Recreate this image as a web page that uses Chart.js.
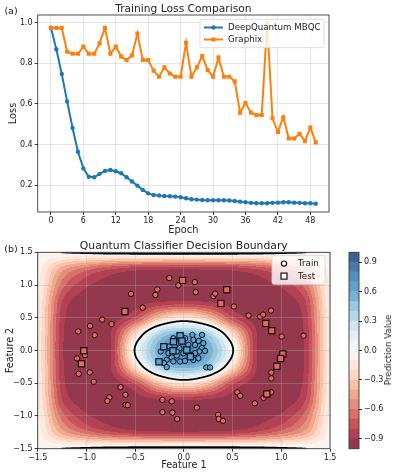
<!DOCTYPE html>
<html>
<head>
<meta charset="utf-8">
<script src="https://cdn.jsdelivr.net/npm/chart.js@4.4.0/dist/chart.umd.min.js"></script>
<style>
body { margin: 0; background: #fff; width: 396px; height: 476px; position: relative; overflow: hidden; font-family: 'DejaVu Sans', sans-serif; color: #222; }
canvas { position: absolute; }
.lbl { position: absolute; white-space: nowrap; transform: translate(-50%, -50%); }
</style>
</head>
<body>
<canvas id="lossChart" width="396" height="240" style="left:0;top:0"></canvas>
<canvas id="boundaryChart" width="396" height="240" style="left:0;top:236px"></canvas>
<canvas id="colorbarChart" width="56" height="240" style="left:340px;top:236px"></canvas>
<div class="lbl" style="left:11px;top:10px;font-size:9.5px">(a)</div>
<div class="lbl" style="left:183.4px;top:8px;font-size:10.7px">Training Loss Comparison</div>
<div class="lbl" style="left:11px;top:248px;font-size:9.5px">(b)</div>
<div class="lbl" style="left:183.8px;top:245px;font-size:10.8px">Quantum Classifier Decision Boundary</div>
<div class="lbl" style="left:388px;top:350px;font-size:8.8px;transform:translate(-50%,-50%) rotate(-90deg)">Prediction Value</div>
<script>
// (a) training loss
const epochs = [0,1,2,3,4,5,6,7,8,9,10,11,12,13,14,15,16,17,18,19,20,21,22,23,24,25,26,27,28,29,30,31,32,33,34,35,36,37,38,39,40,41,42,43,44,45,46,47,48,49];
const mbqcLoss = [0.975,0.869,0.747,0.612,0.481,0.364,0.282,0.241,0.238,0.255,
    0.269,0.274,0.268,0.258,0.238,0.217,0.197,0.176,0.159,0.151,
    0.148,0.146,0.145,0.143,0.140,0.135,0.130,0.128,0.126,0.125,
    0.125,0.125,0.125,0.124,0.121,0.118,0.115,0.112,0.110,0.110,
    0.110,0.112,0.113,0.115,0.115,0.113,0.112,0.110,0.110,0.108];
const graphixLoss = [0.974,0.974,0.974,0.857,0.847,0.847,0.882,0.847,0.847,0.898,
    0.974,0.847,0.882,0.833,0.816,0.839,0.947,0.816,0.816,0.764,
    0.734,0.780,0.750,0.734,0.734,0.901,0.734,0.780,0.836,0.767,
    0.734,0.828,0.734,0.734,0.711,0.557,0.604,0.557,0.545,0.545,
    0.997,0.529,0.461,0.534,0.429,0.429,0.452,0.417,0.483,0.410];
const epochTicks = [0,6,12,18,24,30,36,42,48];
const lossTicks = [0.2,0.4,0.6,0.8,1.0];

// (b) decision boundary: prediction values read on a 0.25 grid
const gridXs = [-1.5,-1.25,-1.0,-0.75,-0.5,-0.25,0,0.25,0.5,0.75,1.0,1.25,1.5];
const gridYs = [1.5,1.25,1.0,0.75,0.5,0.25,0,-0.25,-0.5,-0.75,-1.0,-1.25,-1.5];
const predictionGrid = [
    [-0.04,0.00,0.02,0.04,0.05,0.06,0.06,0.06,0.05,0.04,0.02,0.00,-0.04],
    [-0.06,-0.45,-0.65,-0.78,-0.85,-0.87,-0.88,-0.87,-0.85,-0.78,-0.65,-0.45,-0.06],
    [-0.08,-0.65,-0.88,-0.95,-0.97,-0.98,-0.98,-0.98,-0.97,-0.95,-0.88,-0.65,-0.08],
    [-0.10,-0.80,-0.96,-0.98,-0.95,-0.91,-0.89,-0.91,-0.95,-0.98,-0.96,-0.80,-0.10],
    [-0.11,-0.85,-0.98,-0.96,-0.78,-0.35,-0.15,-0.35,-0.78,-0.96,-0.98,-0.85,-0.11],
    [-0.12,-0.87,-0.98,-0.90,-0.22,0.38,0.55,0.38,-0.22,-0.90,-0.98,-0.87,-0.12],
    [-0.12,-0.88,-0.98,-0.90,0.02,0.58,0.85,0.58,0.02,-0.90,-0.98,-0.88,-0.12],
    [-0.12,-0.87,-0.98,-0.90,-0.22,0.38,0.55,0.38,-0.22,-0.90,-0.98,-0.87,-0.12],
    [-0.11,-0.85,-0.98,-0.96,-0.78,-0.35,-0.15,-0.35,-0.78,-0.96,-0.98,-0.85,-0.11],
    [-0.10,-0.80,-0.96,-0.98,-0.95,-0.91,-0.89,-0.91,-0.95,-0.98,-0.96,-0.80,-0.10],
    [-0.08,-0.65,-0.88,-0.95,-0.97,-0.98,-0.98,-0.98,-0.97,-0.95,-0.88,-0.65,-0.08],
    [-0.06,-0.45,-0.65,-0.78,-0.85,-0.87,-0.88,-0.87,-0.85,-0.78,-0.65,-0.45,-0.06],
    [-0.04,0.00,0.02,0.04,0.05,0.06,0.06,0.06,0.05,0.04,0.02,0.00,-0.04]
];
const levels = [-1.0,-0.9,-0.8,-0.7,-0.6,-0.5,-0.4,-0.3,-0.2,-0.1,0.0,0.1,0.2,0.3,0.4,0.5,0.6,0.7,0.8,0.9,1.0];
const featureTicks = [-1.5,-1.0,-0.5,0.0,0.5,1.0,1.5];
const colorbarTicks = [-0.9,-0.6,-0.3,0.0,0.3,0.6,0.9];

const trainRingX = [-0.149,-0.056,0.112,0.122,-0.272,-0.292,-0.542,0.303,0.322,-0.423,0.513,0.664,-0.838,-0.742,-0.963,-1.084,-0.915,0.784,0.815,0.895,1.004,1.229,
    -1.096,-1.014,-1.079,-0.966,-0.925,0.898,0.898,0.895,-0.650,-0.600,-0.765,-0.785,-0.598,-0.576,-0.220,-0.124,0.549,0.578,0.728,0.818,0.134,-0.220,-0.118,-0.068,0.352,0.358,0.402];
const trainRingY = [1.106,0.995,1.045,0.892,0.931,0.848,0.865,0.831,0.868,0.655,0.672,0.533,0.472,0.403,0.376,0.291,0.234,0.517,0.548,0.611,0.213,0.225,
    -0.120,-0.071,-0.356,-0.333,-0.478,-0.335,-0.426,-0.638,-0.561,-0.676,-0.716,-0.771,-0.830,-0.835,-0.754,-0.777,-0.638,-0.691,-0.807,-0.724,-0.873,-0.942,-0.949,-1.046,-0.983,-1.046,-1.074];
const trainCoreX = [0.088,0.187,0.098,0.153,0.200,0.115,0.184,0.218,0.159,0.115,0.064,-0.005,-0.046,-0.073,-0.124,-0.159,-0.176,-0.203,-0.176,-0.108,
    -0.039,0.012,0.098,0.149,0.230,0.269,0.046,0.012,-0.073,-0.237,-0.108,-0.056,0.030,-0.022,-0.149];
const trainCoreY = [0.238,0.238,0.161,0.146,0.111,0.085,0.035,-0.006,-0.015,-0.041,-0.067,-0.041,0.035,-0.076,-0.107,-0.041,-0.143,-0.193,-0.254,-0.167,
    -0.167,-0.158,-0.143,-0.117,-0.259,-0.259,0.085,0.187,-0.015,-0.015,0.187,0.111,-0.015,0.161,0.061];
const testRingX = [-0.012,0.440,0.380,-0.605,0.840,0.902,-1.026,-1.050,1.016,0.993,0.955,0.852];
const testRingY = [1.071,0.929,0.720,0.596,0.414,0.302,-0.005,-0.203,-0.053,-0.122,-0.241,-0.665];
const testCoreX = [-0.039,-0.106,-0.020,0.030,-0.112,-0.206,0.067,-0.255];
const testCoreY = [0.225,0.135,0.144,0.007,-0.005,0.056,-0.094,-0.172];

Chart.defaults.font.family = "'DejaVu Sans', sans-serif";
Chart.defaults.color = '#222';

const tickFont = { size: 8 };
const gridColor = 'rgba(176,176,176,0.32)';

function fmtTick(v) {
    if (Math.abs(v) < 1e-9) return '0.0';
    return (v < 0 ? '\u2212' : '') + Math.abs(v).toFixed(1);
}

// matplotlib RdBu
const rdbu = ['#67001f','#b2182b','#d6604d','#f4a582','#fddbc7','#f7f7f7','#d1e5f0','#92c5de','#4393c3','#2166ac','#053061']
    .map(h => [parseInt(h.slice(1,3),16), parseInt(h.slice(3,5),16), parseInt(h.slice(5,7),16)]);
function cmap(t) {
    t = Math.max(0, Math.min(1, t)) * 10;
    const i = Math.min(9, Math.floor(t)), f = t - i;
    return rdbu[i].map((c, k) => c + (rdbu[i + 1][k] - c) * f);
}
const fillAlpha = 0.8;
const bandColors = levels.slice(0, -1).map((lo, k) => {
    const mid = (lo + levels[k + 1]) / 2;
    return cmap((mid + 1) / 2).map(c => Math.round(c * fillAlpha + 255 * (1 - fillAlpha)));
});
const rgb = c => `rgb(${c[0]},${c[1]},${c[2]})`;

function gridVal(i, j) {
    i = Math.max(0, Math.min(gridXs.length - 1, i));
    j = Math.max(0, Math.min(gridYs.length - 1, j));
    return predictionGrid[j][i];
}
function cubic(p0, p1, p2, p3, t) {
    return p1 + 0.5 * t * (p2 - p0 + t * (2 * p0 - 5 * p1 + 4 * p2 - p3 + t * (3 * (p1 - p2) + p3 - p0)));
}
// smooth lookup between the read grid values (Catmull-Rom)
function fieldAt(x, y) {
    const u = (x - gridXs[0]) / (gridXs[1] - gridXs[0]);
    const v = (y - gridYs[0]) / (gridYs[1] - gridYs[0]);
    const i = Math.floor(u), j = Math.floor(v), tu = u - i, tv = v - j;
    const rows = [];
    for (let dj = -1; dj <= 2; dj++) {
        rows.push(cubic(gridVal(i - 1, j + dj), gridVal(i, j + dj), gridVal(i + 1, j + dj), gridVal(i + 2, j + dj), tu));
    }
    return cubic(rows[0], rows[1], rows[2], rows[3], tv);
}
function bandIndex(v) {
    let k = Math.floor((v - levels[0]) / (levels[1] - levels[0]));
    return Math.max(0, Math.min(bandColors.length - 1, k));
}

const framePlugin = {
    id: 'frame',
    afterDraw(chart) {
        const { ctx, chartArea: a } = chart;
        ctx.save();
        ctx.strokeStyle = '#3a3a3a';
        ctx.lineWidth = 0.9;
        ctx.strokeRect(a.left, a.top, a.right - a.left, a.bottom - a.top);
        ctx.restore();
    }
};

function legendBox(ctx, x, y, w, h) {
    ctx.beginPath();
    ctx.roundRect(x, y, w, h, 2);
    ctx.fillStyle = 'rgba(255,255,255,0.8)';
    ctx.fill();
    ctx.strokeStyle = '#d6d6d6';
    ctx.lineWidth = 0.8;
    ctx.stroke();
}

const lossLegend = {
    id: 'lossLegend',
    afterDatasetsDraw(chart) {
        const ctx = chart.ctx;
        ctx.save();
        legendBox(ctx, 200, 19.3, 124, 28.4);
        ctx.font = "8.7px 'DejaVu Sans'";
        ctx.textBaseline = 'middle';
        chart.data.datasets.forEach((ds, k) => {
            const y = 27.5 + k * 12;
            ctx.strokeStyle = ds.borderColor;
            ctx.lineWidth = 2;
            ctx.beginPath(); ctx.moveTo(204, y); ctx.lineTo(223, y); ctx.stroke();
            ctx.fillStyle = ds.borderColor;
            if (ds.pointStyle === 'rect') ctx.fillRect(211.5, y - 2, 4, 4);
            else { ctx.beginPath(); ctx.arc(213.5, y, 2.2, 0, Math.PI * 2); ctx.fill(); }
            ctx.fillStyle = '#222';
            ctx.fillText(ds.label, 228, y + 0.5);
        });
        ctx.restore();
    }
};

new Chart(document.getElementById('lossChart'), {
    type: 'line',
    data: {
        datasets: [
            { label: 'DeepQuantum MBQC', data: epochs.map((e, i) => ({ x: e, y: mbqcLoss[i] })),
              borderColor: '#1f77b4', backgroundColor: '#1f77b4', borderWidth: 2, pointStyle: 'circle',
              pointRadius: 2.2, pointBorderWidth: 0, order: 1 },
            { label: 'Graphix', data: epochs.map((e, i) => ({ x: e, y: graphixLoss[i] })),
              borderColor: '#ff7f0e', backgroundColor: '#ff7f0e', borderWidth: 2, pointStyle: 'rect',
              pointRadius: 2.9, pointBorderWidth: 0, order: 0 }
        ]
    },
    options: {
        animation: false, responsive: false, devicePixelRatio: 1,
        layout: { padding: { top: 15, right: 67, left: 0, bottom: 0 } },
        plugins: { legend: { display: false }, tooltip: { enabled: false } },
        scales: {
            x: {
                type: 'linear', min: -2.45, max: 51.45,
                afterBuildTicks: s => { s.ticks = epochTicks.map(v => ({ value: v })); },
                afterFit: s => { s.height = 28; },
                ticks: { font: tickFont, padding: 1, maxRotation: 0, callback: v => String(v) },
                grid: { color: gridColor, tickLength: 3, tickColor: '#333' },
                border: { display: false },
                title: { display: true, text: 'Epoch', font: { size: 9.8 }, padding: { top: 0, bottom: 4 } }
            },
            y: {
                min: 0.067, max: 1.038,
                afterBuildTicks: s => { s.ticks = lossTicks.map(v => ({ value: v })); },
                afterFit: s => { s.width = 37.7; },
                ticks: { font: tickFont, padding: 2, callback: v => v.toFixed(1) },
                grid: { color: gridColor, tickLength: 3, tickColor: '#333' },
                border: { display: false },
                title: { display: true, text: 'Loss', font: { size: 9.8 }, padding: { top: 8, bottom: 0 } }
            }
        }
    },
    plugins: [framePlugin, lossLegend]
});

const contourPlugin = {
    id: 'contour',
    beforeDraw(chart) {
        const { ctx, chartArea: a, scales: { x, y } } = chart;
        const left = Math.floor(a.left), top = Math.floor(a.top);
        const w = Math.ceil(a.right) - left, h = Math.ceil(a.bottom) - top;
        const img = ctx.createImageData(w, h);
        for (let py = 0; py < h; py++) {
            const vy = y.getValueForPixel(top + py + 0.5);
            for (let px = 0; px < w; px++) {
                const vx = x.getValueForPixel(left + px + 0.5);
                const c = bandColors[bandIndex(fieldAt(vx, vy))];
                const o = (py * w + px) * 4;
                img.data[o] = c[0]; img.data[o + 1] = c[1]; img.data[o + 2] = c[2]; img.data[o + 3] = 255;
            }
        }
        ctx.putImageData(img, left, top);
    },
    beforeDatasetsDraw(chart) {
        // zero level line, marching squares over the smoothed field
        const { ctx, chartArea: a, scales: { x, y } } = chart;
        const step = 1.5;
        const nx = Math.ceil((a.right - a.left) / step) + 1, ny = Math.ceil((a.bottom - a.top) / step) + 1;
        const pxs = [], pys = [], vals = [];
        for (let i = 0; i < nx; i++) pxs.push(Math.min(a.right, a.left + i * step));
        for (let j = 0; j < ny; j++) pys.push(Math.min(a.bottom, a.top + j * step));
        for (let j = 0; j < ny; j++) {
            const vy = y.getValueForPixel(pys[j]);
            for (let i = 0; i < nx; i++) vals.push(fieldAt(x.getValueForPixel(pxs[i]), vy));
        }
        const V = (i, j) => vals[j * nx + i];
        ctx.save();
        ctx.beginPath();
        ctx.rect(a.left, a.top, a.right - a.left, a.bottom - a.top);
        ctx.clip();
        ctx.beginPath();
        for (let j = 0; j < ny - 1; j++) {
            for (let i = 0; i < nx - 1; i++) {
                const v00 = V(i, j), v10 = V(i + 1, j), v01 = V(i, j + 1), v11 = V(i + 1, j + 1);
                const x0 = pxs[i], x1 = pxs[i + 1], y0 = pys[j], y1 = pys[j + 1];
                const pts = [];
                if ((v00 > 0) !== (v10 > 0)) pts.push([x0 + (x1 - x0) * v00 / (v00 - v10), y0]);
                if ((v10 > 0) !== (v11 > 0)) pts.push([x1, y0 + (y1 - y0) * v10 / (v10 - v11)]);
                if ((v01 > 0) !== (v11 > 0)) pts.push([x0 + (x1 - x0) * v01 / (v01 - v11), y1]);
                if ((v00 > 0) !== (v01 > 0)) pts.push([x0, y0 + (y1 - y0) * v00 / (v00 - v01)]);
                for (let k = 0; k + 1 < pts.length; k += 2) {
                    ctx.moveTo(pts[k][0], pts[k][1]);
                    ctx.lineTo(pts[k + 1][0], pts[k + 1][1]);
                }
            }
        }
        ctx.strokeStyle = '#000';
        ctx.lineWidth = 1.8;
        ctx.lineCap = 'round';
        ctx.stroke();
        ctx.restore();
    }
};

const boundaryLegend = {
    id: 'boundaryLegend',
    afterDraw(chart) {
        const ctx = chart.ctx;
        ctx.save();
        legendBox(ctx, 272, 19.7, 53, 28.6);
        ctx.strokeStyle = '#111';
        ctx.fillStyle = '#fff';
        ctx.lineWidth = 1.2;
        ctx.beginPath(); ctx.arc(284, 27.6, 2.6, 0, Math.PI * 2); ctx.fill(); ctx.stroke();
        ctx.fillRect(281, 37.1, 6, 6); ctx.strokeRect(281, 37.1, 6, 6);
        ctx.font = "8.7px 'DejaVu Sans'";
        ctx.textBaseline = 'middle';
        ctx.fillStyle = '#222';
        ctx.fillText('Train', 298, 28);
        ctx.fillText('Test', 298, 40.5);
        ctx.restore();
    }
};

const ringFill = '#e8675d';
const coreFill = '#5aa2d6';
const pointSet = (xs, ys) => xs.map((v, i) => ({ x: v, y: ys[i] }));

new Chart(document.getElementById('boundaryChart'), {
    type: 'scatter',
    data: {
        datasets: [
            { label: 'Test', data: pointSet(testRingX, testRingY), pointStyle: 'rect', pointRadius: 4.4,
              backgroundColor: ringFill, borderColor: '#111', borderWidth: 1.2, order: 0 },
            { label: 'Test core', data: pointSet(testCoreX, testCoreY), pointStyle: 'rect', pointRadius: 4.4,
              backgroundColor: coreFill, borderColor: '#111', borderWidth: 1.2, order: 0 },
            { label: 'Train', data: pointSet(trainRingX, trainRingY), pointStyle: 'circle', pointRadius: 2.7,
              backgroundColor: ringFill, borderColor: '#111', borderWidth: 1, order: 1 },
            { label: 'Train core', data: pointSet(trainCoreX, trainCoreY), pointStyle: 'circle', pointRadius: 2.7,
              backgroundColor: coreFill, borderColor: '#111', borderWidth: 1, order: 1 }
        ]
    },
    options: {
        animation: false, responsive: false, devicePixelRatio: 1,
        layout: { padding: { top: 16.3, right: 66, left: 0, bottom: 0 } },
        plugins: { legend: { display: false }, tooltip: { enabled: false } },
        scales: {
            x: {
                type: 'linear', min: -1.5, max: 1.5,
                afterBuildTicks: s => { s.ticks = featureTicks.map(v => ({ value: v })); },
                afterFit: s => { s.height = 27.3; },
                ticks: { font: tickFont, padding: 1, maxRotation: 0, callback: fmtTick },
                grid: { color: gridColor, tickLength: 3, tickColor: '#333' },
                border: { display: false },
                title: { display: true, text: 'Feature 1', font: { size: 9.6 }, padding: { top: 0, bottom: 5.2 } }
            },
            y: {
                min: -1.5, max: 1.5,
                afterBuildTicks: s => { s.ticks = featureTicks.map(v => ({ value: v })); },
                afterFit: s => { s.width = 37.7; },
                ticks: { font: tickFont, padding: 2, callback: fmtTick },
                grid: { color: gridColor, tickLength: 3, tickColor: '#333' },
                border: { display: false },
                title: { display: true, text: 'Feature 2', font: { size: 9.6 }, padding: { top: 4.3, bottom: 0 } }
            }
        }
    },
    plugins: [contourPlugin, framePlugin, boundaryLegend]
});

new Chart(document.getElementById('colorbarChart'), {
    type: 'bar',
    data: {
        labels: [''],
        datasets: bandColors.map((c, k) => ({
            data: [[levels[k], levels[k + 1]]], backgroundColor: rgb(c), borderWidth: 0,
            grouped: false, barPercentage: 1, categoryPercentage: 1
        }))
    },
    options: {
        animation: false, responsive: false, devicePixelRatio: 1,
        layout: { padding: { top: 16.3, left: 9, bottom: 27.3, right: 0 } },
        plugins: { legend: { display: false }, tooltip: { enabled: false } },
        scales: {
            x: { display: false },
            y: {
                position: 'right', min: -1, max: 1,
                afterBuildTicks: s => { s.ticks = colorbarTicks.map(v => ({ value: v })); },
                afterFit: s => { s.width = 37; },
                ticks: { font: tickFont, padding: 2, callback: fmtTick },
                grid: { drawOnChartArea: false, tickLength: 3, tickColor: '#333' },
                border: { display: false }
            }
        }
    },
    plugins: [framePlugin]
});
</script>
</body>
</html>
